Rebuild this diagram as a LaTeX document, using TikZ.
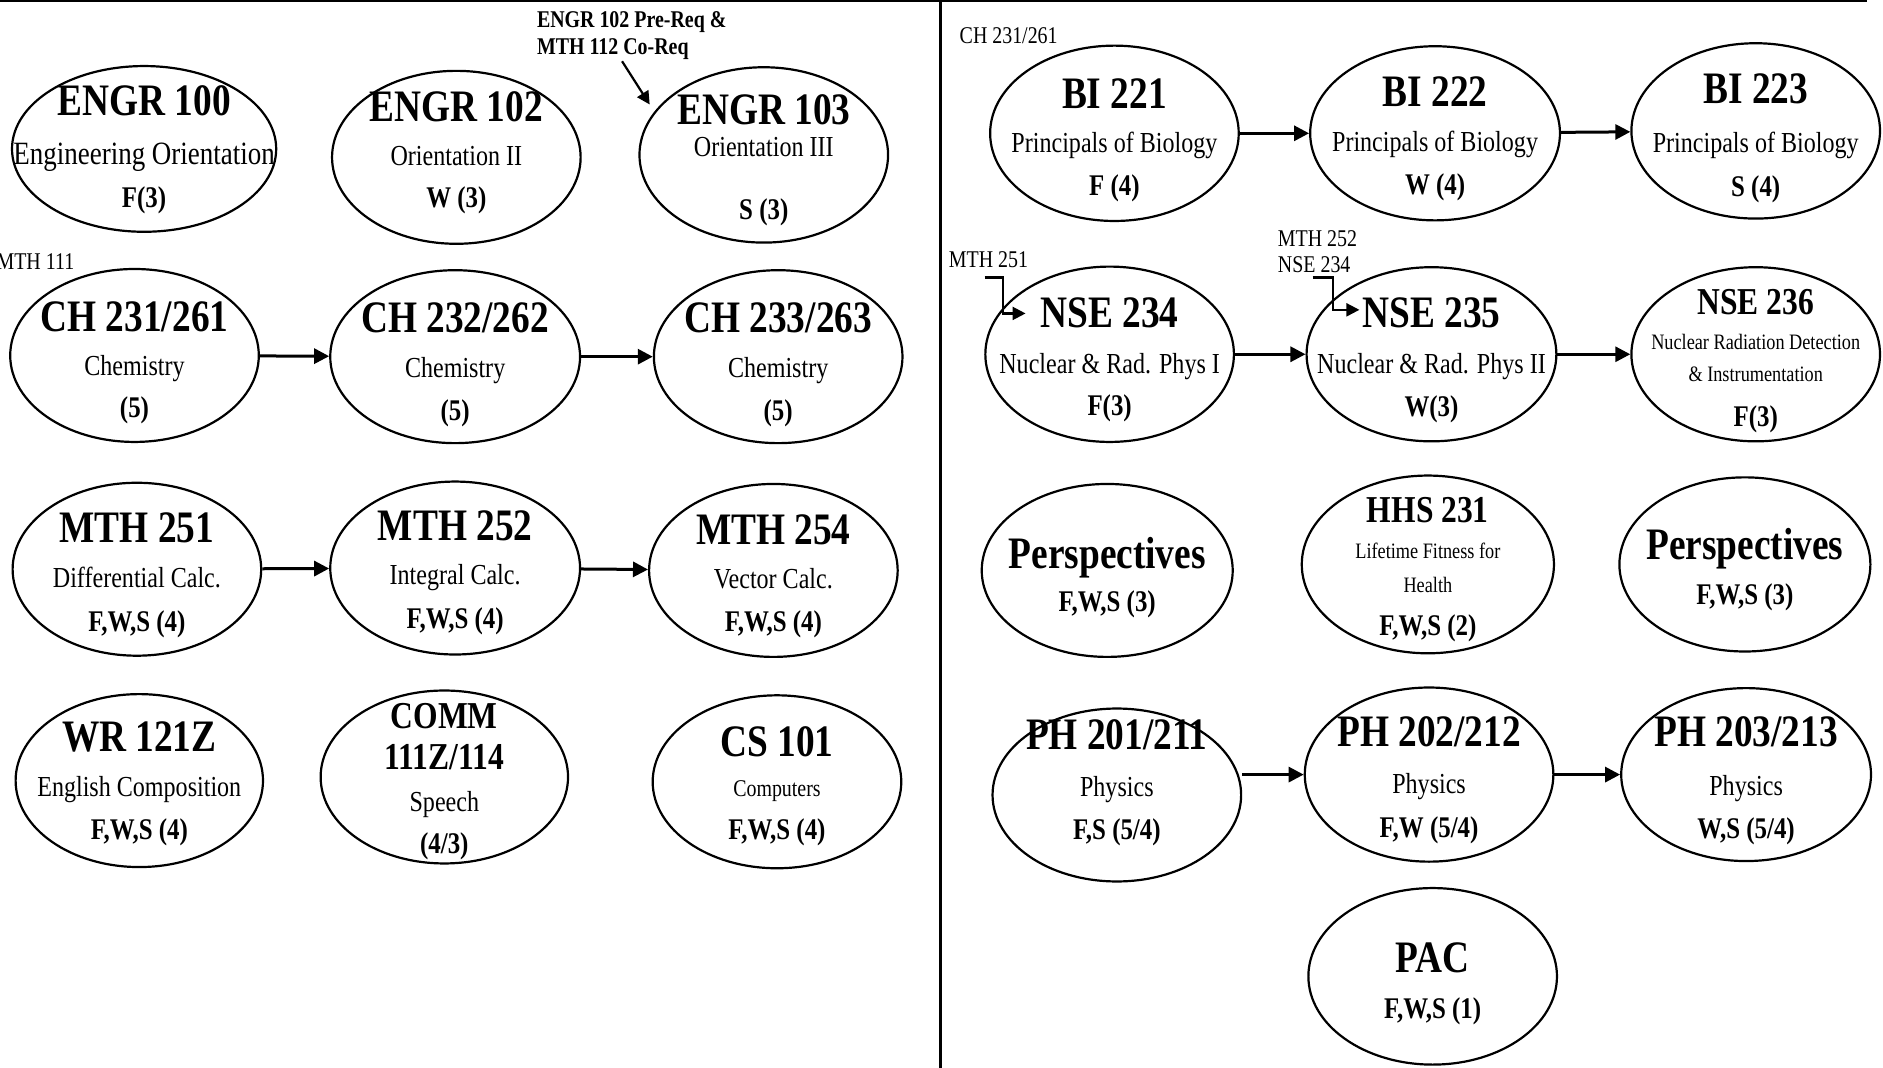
\documentclass[tikz,border=0pt]{standalone}
\usepackage{fontspec}
\newfontfamily\tnr{Liberation Serif}[FakeStretch=0.83]
\usetikzlibrary{shapes.geometric,arrows.meta}
\tikzset{
  crs/.style 2 args={ellipse, draw, line width=2.2pt, inner sep=0pt,
    minimum width={#1*2.4018pt}, minimum height={#2*2.4018pt}},
  ttl/.style={font=\tnr\bfseries\fontsize{45}{45}\selectfont, anchor=base, inner sep=0pt},
  ttls/.style={font=\tnr\bfseries\fontsize{38}{38}\selectfont, anchor=base, inner sep=0pt},
  dsc/.style={font=\tnr\fontsize{29}{29}\selectfont, anchor=base, inner sep=0pt},
  dscs/.style={font=\tnr\fontsize{22}{22}\selectfont, anchor=base, inner sep=0pt},
  trm/.style={font=\tnr\bfseries\fontsize{30}{30}\selectfont, anchor=base, inner sep=0pt},
  lbl/.style={font=\tnr\fontsize{24}{24}\selectfont, anchor=base west, inner sep=0pt},
  lblb/.style={font=\tnr\bfseries\fontsize{24}{24}\selectfont, anchor=base west, inner sep=0pt},
  conn/.style={line width=3pt, -{Triangle[length=15pt,width=15pt]}},
  pconn/.style={line width=2.2pt, -{Triangle[length=13pt,width=13pt]}},
  rule/.style={line width=2.4pt}
}
\begin{document}
\begin{tikzpicture}[x=1.2009pt, y=-1.2009pt]
\useasboundingbox (0,0) rectangle (1568,889);
% frame lines
\draw[rule] (0,0.9) -- (1555,0.9);
\draw[rule] (783,0) -- (783,889);

% ---------- left half ----------
\node[crs={110}{69}] (engr100) at (120,124) {};
\node[ttl] (engr100a) at (120,96) {ENGR 100};
\node[dsc, font=\tnr\fontsize{32.5}{32.5}\selectfont] (engr100b) at (120,137) {Engineering Orientation};
\node[trm] (engr100c) at (120,173) {F(3)};

\node[crs={103.5}{72}] (engr102) at (380,131) {};
\node[ttl] (engr102a) at (380,101) {ENGR 102};
\node[dsc] (engr102b) at (380,138) {Orientation II};
\node[trm] (engr102c) at (380,173) {W (3)};

\node[crs={103.5}{73}] (engr103) at (636,129) {};
\node[ttl] (engr103a) at (636,104) {ENGR 103};
\node[dsc] (engr103b) at (636,130) {Orientation III};
\node[trm] (engr103c) at (636,183) {S (3)};

\node[lblb] (prereq1) at (447,23) {ENGR 102 Pre-Req \&};
\node[lblb] (prereq2) at (447,45) {MTH 112 Co-Req};
\coordinate (prereqS) at (518,51);
\coordinate (prereqE) at (541,87);
\draw[pconn] (prereqS) -- (prereqE);

\node[lbl] (mth111l) at (-3,224) {MTH 111};

\node[crs={103.5}{72}] (ch231) at (112,296) {};
\node[ttl] (ch231a) at (112,276) {CH 231/261};
\node[dsc] (ch231b) at (112,313) {Chemistry};
\node[trm] (ch231c) at (112,348) {(5)};

\node[crs={104}{72}] (ch232) at (379,297) {};
\node[ttl] (ch232a) at (379,277) {CH 232/262};
\node[dsc] (ch232b) at (379,314) {Chemistry};
\node[trm] (ch232c) at (379,350) {(5)};

\node[crs={103.5}{72}] (ch233) at (648,297) {};
\node[ttl] (ch233a) at (648,277) {CH 233/263};
\node[dsc] (ch233b) at (648,314) {Chemistry};
\node[trm] (ch233c) at (648,350) {(5)};

\draw[conn] (ch231) -- (ch232);
\draw[conn] (ch232) -- (ch233);

\node[crs={103.5}{72}] (mth251) at (114,474) {};
\node[ttl] (mth251a) at (114,452) {MTH 251};
\node[dsc] (mth251b) at (114,489) {Differential Calc.};
\node[trm] (mth251c) at (114,526) {F,W,S (4)};

\node[crs={104}{72}] (mth252) at (379,473) {};
\node[ttl] (mth252a) at (379,450) {MTH 252};
\node[dsc] (mth252b) at (379,487) {Integral Calc.};
\node[trm] (mth252c) at (379,523) {F,W,S (4)};

\node[crs={103.5}{72}] (mth254) at (644,475) {};
\node[ttl] (mth254a) at (644,453) {MTH 254};
\node[dsc] (mth254b) at (644,490) {Vector Calc.};
\node[trm] (mth254c) at (644,526) {F,W,S (4)};

\draw[conn] (mth251) -- (mth252);
\draw[conn] (mth252) -- (mth254);

\node[crs={103}{72}] (wr121) at (116,650) {};
\node[ttl] (wr121a) at (116,626) {WR 121Z};
\node[dsc] (wr121b) at (116,663) {English Composition};
\node[trm] (wr121c) at (116,699) {F,W,S (4)};

\node[crs={103}{72}] (comm) at (370,647) {};
\node[ttls] (comma) at (370,607) {COMM};
\node[ttls] (commb) at (370,641) {111Z/114};
\node[dsc] (commc) at (370,676) {Speech};
\node[trm] (commd) at (370,711) {(4/3)};

\node[crs={103.5}{72}] (cs101) at (647,651) {};
\node[ttl] (cs101a) at (647,630) {CS 101};
\node[dscs, font=\tnr\fontsize{24}{24}\selectfont] (cs101b) at (647,663) {Computers};
\node[trm] (cs101c) at (647,699) {F,W,S (4)};

% ---------- right half ----------
\node[lbl] (bilbl) at (799,36) {CH 231/261};

\node[crs={103.5}{73}] (bi221) at (928,111) {};
\node[ttl] (bi221a) at (928,90) {BI 221};
\node[dsc] (bi221b) at (928,127) {Principals of Biology};
\node[trm] (bi221c) at (928,163) {F (4)};

\node[crs={104}{72.5}] (bi222) at (1195,111) {};
\node[ttl] (bi222a) at (1195,89) {BI 222};
\node[dsc] (bi222b) at (1195,126) {Principals of Biology};
\node[trm] (bi222c) at (1195,162) {W (4)};

\node[crs={103.5}{73}] (bi223) at (1462,109) {};
\node[ttl] (bi223a) at (1462,86) {BI 223};
\node[dsc] (bi223b) at (1462,127) {Principals of Biology};
\node[trm] (bi223c) at (1462,164) {S (4)};

\draw[conn] (bi221) -- (bi222);
\draw[conn] (bi222) -- (bi223);

\node[lbl] (nse234l) at (790,223) {MTH 251};
\node[lbl] (nse235l1) at (1064,205) {MTH 252};
\node[lbl] (nse235l2) at (1064,227) {NSE 234};

\node[crs={103.5}{73}] (nse234) at (924,295) {};
\node[ttl] (nse234a) at (924,273) {NSE 234};
\node[dsc] (nse234b) at (924,311) {Nuclear \& Rad. Phys I};
\node[trm] (nse234c) at (924,346) {F(3)};

\node[crs={104}{72.5}] (nse235) at (1192,295) {};
\node[ttl] (nse235a) at (1192,273) {NSE 235};
\node[dsc] (nse235b) at (1192,311) {Nuclear \& Rad. Phys II};
\node[trm] (nse235c) at (1192,347) {W(3)};

\node[crs={103.5}{72.5}] (nse236) at (1462,295) {};
\node[ttls] (nse236a) at (1462,262) {NSE 236};
\node[dscs] (nse236b) at (1462,291) {Nuclear Radiation Detection};
\node[dscs] (nse236c) at (1462,318) {\& Instrumentation};
\node[trm] (nse236d) at (1462,355) {F(3)};

\draw[conn] (nse234) -- (nse235);
\draw[conn] (nse235) -- (nse236);

\coordinate (p234s) at (820,231);
\coordinate (p234e) at (854,261);
\draw[pconn] (p234s) -- (835,231) |- (p234e);
\coordinate (p235s) at (1093,231);
\coordinate (p235e) at (1132,258);
\draw[pconn] (p235s) -- (1110,231) |- (p235e);

\node[crs={104.5}{72}] (persp1) at (922,475) {};
\node[ttl] (persp1a) at (922,473) {Perspectives};
\node[trm] (persp1b) at (922,509) {F,W,S (3)};

\node[crs={105}{74}] (hhs231) at (1189,470) {};
\node[ttls] (hhs231a) at (1189,435) {HHS 231};
\node[dscs] (hhs231b) at (1189,465) {Lifetime Fitness for};
\node[dscs] (hhs231c) at (1189,493) {Health};
\node[trm] (hhs231d) at (1189,529) {F,W,S (2)};

\node[crs={104.5}{72.5}] (persp2) at (1453,470) {};
\node[ttl] (persp2a) at (1453,466) {Perspectives};
\node[trm] (persp2b) at (1453,503) {F,W,S (3)};

\node[crs={103.5}{72}] (ph201) at (930,662) {};
\node[ttl] (ph201a) at (930,624) {PH 201/211};
\node[dsc] (ph201b) at (930,663) {Physics};
\node[trm] (ph201c) at (930,699) {F,S (5/4)};

\node[crs={103.5}{72.5}] (ph202) at (1190,645) {};
\node[ttl] (ph202a) at (1190,622) {PH 202/212};
\node[dsc] (ph202b) at (1190,661) {Physics};
\node[trm] (ph202c) at (1190,697) {F,W (5/4)};

\node[crs={104}{72}] (ph203) at (1454,645) {};
\node[ttl] (ph203a) at (1454,622) {PH 203/213};
\node[dsc] (ph203b) at (1454,662) {Physics};
\node[trm] (ph203c) at (1454,698) {W,S (5/4)};

\draw[conn] (ph201.east |- ph202.center) -- (ph202);
\draw[conn] (ph202) -- (ph203);

\node[crs={103.5}{73.5}] (pac) at (1193,813) {};
\node[ttl] (paca) at (1193,810) {PAC};
\node[trm] (pacb) at (1193,848) {F,W,S (1)};
\end{tikzpicture}
\end{document}
